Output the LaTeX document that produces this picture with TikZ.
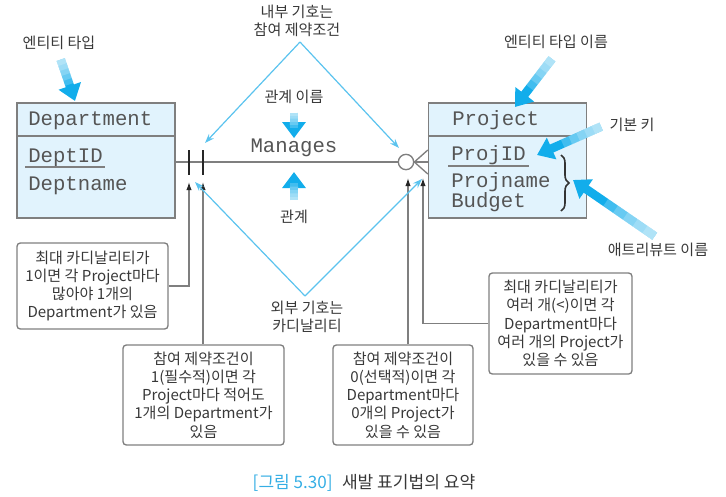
\documentclass[tikz,border=0pt]{standalone}
\usepackage{fontspec}
\setmainfont{Noto Sans CJK KR}
\setmonofont{Liberation Mono}
\usetikzlibrary{arrows.meta, calc, positioning, decorations.pathreplacing}
\definecolor{boxfill}{HTML}{E1F3FD}
\definecolor{linegray}{HTML}{7F7F7F}
\definecolor{txtgray}{HTML}{383838}
\definecolor{monogray}{HTML}{555555}
\definecolor{skyline}{HTML}{5BC3EE}
\definecolor{fatblue}{HTML}{12ADEB}
\definecolor{capblue}{HTML}{35AEE4}
% fat callout arrow, lighter towards its tail
\newcommand\fatarrow[2]{%
  \draw[fat] (#1) -- (#2);
  \foreach \f in {0.12,0.24,0.36,0.48,0.6}
    \draw[fatfade] (#1) -- ($(#1)!\f!(#2)$);
}

\begin{document}
\begin{tikzpicture}[x=0.75pt, y=-0.75pt,
  every node/.style={text=txtgray, align=center, font=\fontsize{11.3}{13.7}\selectfont},
  mono/.style={anchor=base west, inner sep=0pt, text=monogray, font=\ttfamily\fontsize{15.5}{18}\selectfont},
  entbox/.style={draw=linegray, fill=boxfill, line width=1pt, minimum width=118.5pt, minimum height=86.25pt, inner sep=0pt},
  notebox/.style={draw=linegray, rounded corners=2.5pt, line width=1pt, inner sep=0pt},
  pointer/.style={draw=linegray, line width=0.9pt, -{Latex[length=6pt,width=4pt,color=black!85]}},
  skyarrow/.style={draw=skyline, line width=0.9pt, -{Stealth[length=7pt,width=5pt]}},
  fat/.style={draw=fatblue, line width=6.5pt, -{Triangle[length=12pt,width=17pt]}},
  fatfade/.style={draw=white, draw opacity=0.2, line width=6.6pt},
  relline/.style={draw=linegray, line width=1pt},
  bar/.style={draw=black!85, line width=2pt}]
\useasboundingbox (0,0) rectangle (726,497);

% entity types
\node[entbox] (dept) at (96,160.5) {};
\draw[relline] (dept.west |- 0,136) -- (dept.east |- 0,136);
\node[mono] (deptName) at (28,125) {Department};
\node[mono] (deptId) at (28,162) {DeptID};
\node[mono] (deptNm) at (28,190) {Deptname};
\draw[relline] ($(deptId.base west)+(-3,5)$) -- ($(deptId.base east)+(2,5)$);

\node[entbox] (proj) at (507.5,160.5) {};
\draw[relline] (proj.west |- 0,136) -- (proj.east |- 0,136);
\node[mono] (projName) at (452,125) {Project};
\node[mono] (projId) at (451,160) {ProjID};
\node[mono] (projNm) at (451,187) {Projname};
\node[mono] (budget) at (451,207) {Budget};
\draw[relline] ($(projId.base west)+(-3,6)$) -- ($(projId.base east)+(3,6)$);
\draw[decorate, decoration={brace, amplitude=6pt}, line width=1.2pt, black!80] (561,155) -- (561,211);

% relationship
\node[mono, anchor=base] (mgs) at (294,152) {Manages};
\node[draw=linegray, fill=white, circle, line width=1pt, minimum size=11.5pt, inner sep=0pt] (zero) at (406,162) {};
\draw[relline] (dept.east |- zero) -- (zero);
\foreach \y in {150,162,174} \draw[relline] (zero.east) -- (proj.west |- 0,\y);
\foreach \x in {189,203} \draw[bar] (\x,150) -- (\x,175);

% notes
\node[notebox, minimum width=113.25pt, minimum height=64.5pt] (maxOne) at (92.5,286)
  {최대 카디날리티가\\1이면 각 Project마다\\많아야 1개의\\Department가 있음};
\node[notebox, minimum width=120.75pt, minimum height=75pt] (minOne) at (203.5,395)
  {참여 제약조건이\\1(필수적)이면 각\\Project마다 적어도\\1개의 Department가\\있음};
\node[notebox, minimum width=105pt, minimum height=75pt] (minZero) at (403,395)
  {참여 제약조건이\\0(선택적)이면 각\\Department마다\\0개의 Project가\\있을 수 있음};
\node[notebox, minimum width=107.25pt, minimum height=75.75pt] (maxMany) at (560.5,323.5)
  {최대 카디날리티가\\여러 개(<)이면 각\\Department마다\\여러 개의 Project가\\있을 수 있음};

\coordinate (barA) at (189,182);
\coordinate (barB) at (203,182);
\coordinate (crowA) at (408,178);
\coordinate (crowB) at (423,178);
\draw[pointer] (maxOne.east) -| (barA);
\draw[pointer] (minOne.north -| barB) -- (barB);
\draw[pointer] (minZero.north -| crowA) -- (crowA);
\draw[pointer] (maxMany.west) -| (crowB);

% inner / outer symbols
\node (inLbl) at (297,20.5) {내부 기호는\\참여 제약조건};
\node (outLbl) at (307,317) {외부 기호는\\카디날리티};
\coordinate (dTop) at (300,42);
\coordinate (dBot) at (305,296);
\coordinate (inL) at (205,143);
\coordinate (inR) at (399,148);
\coordinate (outL) at (195,182);
\coordinate (outR) at (422,179);
\draw[skyarrow] (dTop) -- (inL);
\draw[skyarrow] (dTop) -- (inR);
\draw[skyarrow] (dBot) -- (outL);
\draw[skyarrow] (dBot) -- (outR);

% callouts
\node (entLbl) at (59,43) {엔티티 타입};
\node (relNmLbl) at (294,97) {관계 이름};
\node (relLbl) at (294,217) {관계};
\node (entNmLbl) at (556,42) {엔티티 타입 이름};
\node (pkLbl) at (632,125) {기본 키};
\node (attLbl) at (658,250) {애트리뷰트 이름};
\coordinate (entTip) at (75,101);
\coordinate (relTip) at (294,172);
\coordinate (projTip) at (515,107);
\coordinate (pkTip) at (537,155);
\coordinate (attTip) at (573,180);
\coordinate (entTail) at ($(entLbl.south)!4pt!(entTip)$);
\coordinate (relNmTail) at ($(relNmLbl.south)!3pt!(mgs.north)$);
\coordinate (relTail) at ($(relLbl.north)!4pt!(relTip)$);
\coordinate (entNmTail) at ($(entNmLbl.south)!5pt!(projTip)$);
\coordinate (pkTail) at ($(pkLbl.west)!3pt!(pkTip)$);
\coordinate (attTail) at ($(attLbl.north)!3pt!(attTip)$);
\fatarrow{entTail}{entTip}
\fatarrow{relNmTail}{mgs.north}
\fatarrow{relTail}{relTip}
\fatarrow{entNmTail}{projTip}
\fatarrow{pkTail}{pkTip}
\fatarrow{attTail}{attTip}

\node[font=\fontsize{12.8}{15}\selectfont] (cap) at (364,483)
  {\textcolor{capblue}{[그림 5.30]}\hspace{7pt}새발 표기법의 요약};
\end{tikzpicture}
\end{document}
